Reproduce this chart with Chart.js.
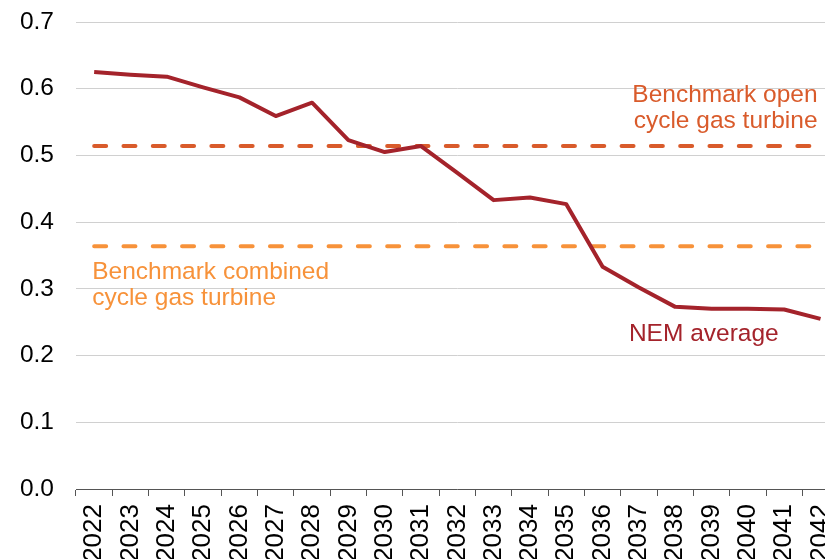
<!DOCTYPE html>
<html>
<head>
<meta charset="utf-8">
<script src="https://cdn.jsdelivr.net/npm/chart.js@4"></script>
<style>
    html, body { margin: 0; padding: 0; overflow: hidden; background: #fff; }
    canvas { display: block; }
</style>
</head>
<body>
<canvas id="chart" width="860" height="559"></canvas>
<script>
// data
let years = ['2022', '2023', '2024', '2025', '2026', '2027', '2028', '2029', '2030', '2031', '2032',
             '2033', '2034', '2035', '2036', '2037', '2038', '2039', '2040', '2041', '2042'];
let nemAverage = [0.625, 0.621, 0.618, 0.602, 0.587, 0.559, 0.579, 0.523, 0.505, 0.514, 0.474,
                  0.433, 0.437, 0.427, 0.333, 0.302, 0.273, 0.270, 0.270, 0.269, 0.255];
let openCycle = 0.514;
let combinedCycle = 0.364;
let yTicks = [0, 0.1, 0.2, 0.3, 0.4, 0.5, 0.6, 0.7];

const RED = '#a4232b';
const OCGT = '#d95b2b';
const CCGT = '#f7923a';
const FONT = "'Liberation Sans', Arial, sans-serif";

// text labels, anchored to a year and a value
let notes = [
    { lines: ['Benchmark open', 'cycle gas turbine'], year: '2042', value: 0.580, dx: -3, align: 'right', color: OCGT },
    { lines: ['Benchmark combined', 'cycle gas turbine'], year: '2022', value: 0.315, dx: -2, align: 'left', color: CCGT },
    { lines: ['NEM average'], year: '2037', value: 0.222, dx: -10, align: 'left', color: RED }
];

let notesPlugin = {
    id: 'notes',
    afterDatasetsDraw(chart) {
        let ctx = chart.ctx;
        let x = chart.scales.x, y = chart.scales.y;
        ctx.save();
        ctx.font = '24.5px ' + FONT;
        ctx.textBaseline = 'alphabetic';
        notes.forEach(n => {
            ctx.fillStyle = n.color;
            ctx.textAlign = n.align;
            let px = x.getPixelForValue(years.indexOf(n.year)) + n.dx;
            let py = y.getPixelForValue(n.value);
            n.lines.forEach((t, i) => ctx.fillText(t, px, py + i * 26));
        });
        ctx.restore();
    }
};

let flat = v => years.map(() => v);

new Chart(document.getElementById('chart'), {
    type: 'line',
    data: {
        labels: years,
        datasets: [
            {
                label: 'NEM average',
                data: nemAverage,
                borderColor: RED,
                borderWidth: 4,
                borderJoinStyle: 'round',
                pointRadius: 0,
                tension: 0
            },
            {
                label: 'Benchmark open cycle gas turbine',
                data: flat(openCycle),
                borderColor: OCGT,
                borderWidth: 4,
                borderDash: [12, 17.3],
                borderCapStyle: 'round',
                pointRadius: 0
            },
            {
                label: 'Benchmark combined cycle gas turbine',
                data: flat(combinedCycle),
                borderColor: CCGT,
                borderWidth: 4,
                borderDash: [12, 17.3],
                borderCapStyle: 'round',
                pointRadius: 0
            }
        ]
    },
    options: {
        responsive: false,
        animation: false,
        layout: { padding: { top: 22, right: 12, left: 0, bottom: 0 } },
        plugins: {
            legend: { display: false },
            tooltip: { enabled: false }
        },
        scales: {
            x: {
                offset: true,
                grid: {
                    offset: true,
                    drawOnChartArea: false,
                    drawTicks: true,
                    tickLength: 7,
                    color: '#555'
                },
                border: { display: true, color: '#555', width: 1 },
                ticks: {
                    autoSkip: false,
                    minRotation: 90,
                    maxRotation: 90,
                    padding: 8,
                    color: '#000',
                    font: { family: FONT, size: 26 }
                },
                afterFit: s => { s.height = 70; }
            },
            y: {
                min: 0,
                max: 0.7,
                afterBuildTicks: s => { s.ticks = yTicks.map(v => ({ value: v })); },
                grid: { color: '#d0d0d0', lineWidth: 1, drawTicks: true, tickLength: 22, tickColor: 'rgba(0,0,0,0)' },
                border: { display: false },
                ticks: {
                    padding: 0,
                    color: '#000',
                    font: { family: FONT, size: 24.5 },
                    callback: v => Number(v).toFixed(1)
                },
                afterFit: s => { s.width = 76; }
            }
        }
    },
    plugins: [notesPlugin]
});
</script>
</body>
</html>
